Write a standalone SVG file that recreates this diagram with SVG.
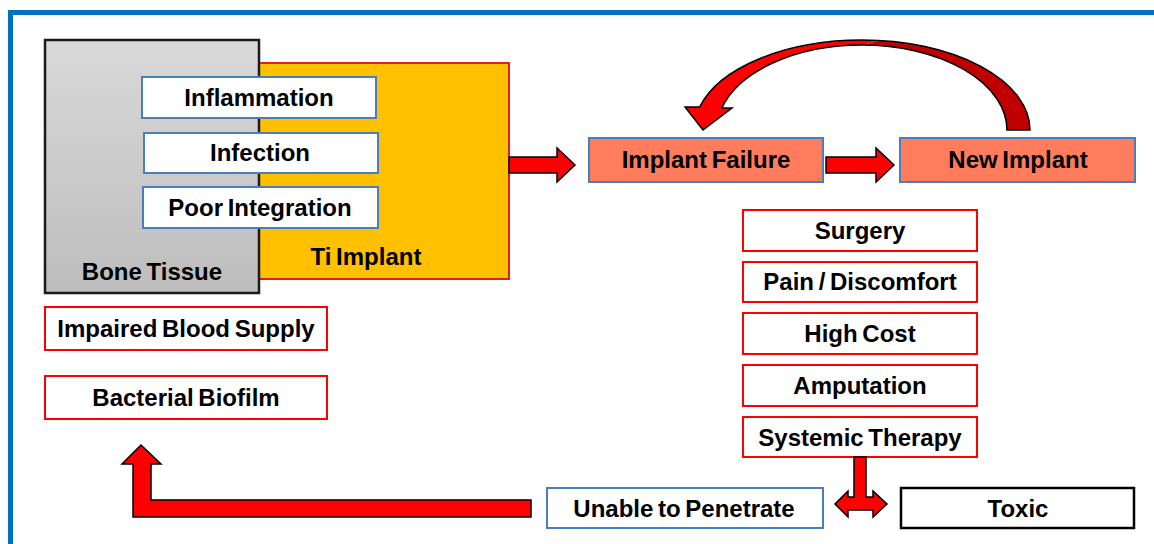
<svg xmlns="http://www.w3.org/2000/svg" width="1154" height="544" viewBox="0 0 1154 544">
<defs>
<linearGradient id="boneGrad" x1="0" y1="0" x2="0" y2="1">
<stop offset="0" stop-color="#D9D9D9"/>
<stop offset="1" stop-color="#BDBDBD"/>
</linearGradient>
</defs>
<style>
text{font-family:"Liberation Sans",Arial,sans-serif;font-weight:bold;font-size:24px;fill:#000;text-anchor:middle;word-spacing:-2px}
.blue{fill:#fff;stroke:#4A7EBB;stroke-width:2}
.red{fill:#fff;stroke:#FF0000;stroke-width:2}
.blk{fill:#fff;stroke:#000;stroke-width:2.5}
.salmon{fill:#FF7C5C;stroke:#4A7EBB;stroke-width:2}
.arrow{fill:#FF0000;stroke:#000;stroke-width:1.5;stroke-linejoin:miter}
.dark{fill:#C00000;stroke:none}
.bright{fill:#FF0000;stroke:none}
.outline{fill:none;stroke:#000;stroke-width:1.5}
</style>
<rect x="10.5" y="12.5" width="1200" height="600" fill="#fff" stroke="#0070C0" stroke-width="5"/>

<g id="ti-implant">
<rect x="259" y="63" width="250" height="216" fill="#FFC000" stroke="#E0201A" stroke-width="2"/>
<text x="366" y="265">Ti Implant</text>
</g>
<g id="bone-tissue">
<rect x="45" y="40" width="214" height="253" fill="url(#boneGrad)" stroke="#1a1a1a" stroke-width="2.5"/>
<text x="152" y="280">Bone Tissue</text>
</g>
<g id="inflammation">
<rect class="blue" x="142" y="77" width="234" height="41"/>
<text x="259" y="106">Inflammation</text>
</g>
<g id="infection">
<rect class="blue" x="144" y="133" width="234" height="40"/>
<text x="260" y="161">Infection</text>
</g>
<g id="poor-integration">
<rect class="blue" x="143" y="187" width="235" height="41"/>
<text x="260" y="216">Poor Integration</text>
</g>
<g id="impaired-blood-supply">
<rect class="red" x="45" y="307" width="282" height="43"/>
<text x="186" y="337">Impaired Blood Supply</text>
</g>
<g id="bacterial-biofilm">
<rect class="red" x="45" y="376" width="282" height="43"/>
<text x="186" y="406">Bacterial Biofilm</text>
</g>
<g id="implant-failure">
<rect class="salmon" x="589" y="138" width="234" height="44"/>
<text x="706" y="168">Implant Failure</text>
</g>
<g id="new-implant">
<rect class="salmon" x="900" y="138" width="235" height="44"/>
<text x="1018" y="168">New Implant</text>
</g>
<g id="surgery">
<rect class="red" x="743" y="210" width="234" height="41"/>
<text x="860" y="239">Surgery</text>
</g>
<g id="pain-discomfort">
<rect class="red" x="743" y="262" width="234" height="40"/>
<text x="860" y="290">Pain / Discomfort</text>
</g>
<g id="high-cost">
<rect class="red" x="743" y="313" width="234" height="41"/>
<text x="860" y="342">High Cost</text>
</g>
<g id="amputation">
<rect class="red" x="743" y="365" width="234" height="41"/>
<text x="860" y="394">Amputation</text>
</g>
<g id="systemic-therapy">
<rect class="red" x="743" y="417" width="234" height="40"/>
<text x="860" y="446">Systemic Therapy</text>
</g>
<g id="unable-to-penetrate">
<rect class="blue" x="547" y="488" width="276" height="40"/>
<text x="684" y="517">Unable to Penetrate</text>
</g>
<g id="toxic">
<rect class="blk" x="901" y="488" width="233" height="40"/>
<text x="1018" y="517">Toxic</text>
</g>

<g id="connectors">
<path class="arrow" d="M509,157 L557,157 L557,148 L575,165 L557,182 L557,173 L509,173 Z"/>
<path class="arrow" d="M826,157 L876,157 L876,148 L894,165 L876,182 L876,173 L826,173 Z"/>
<path class="dark" d="M880,40.5 A168,90 0 0 1 1030,130 L1007,130 A145,85 0 0 0 862,45 Z"/>
<path class="bright" d="M880,40.5 A168,90 0 0 0 862,40 A168,90 0 0 0 699.6,107 L685,107 L703,130 L732,108 L721.9,108 A145,85 0 0 1 862,45 Z"/>
<path class="outline" d="M1030,130 A168,90 0 0 0 862,40 A168,90 0 0 0 699.6,107 L685,107 L703,130 L732,108 L721.9,108 A145,85 0 0 1 862,45 A145,85 0 0 1 1007,130 Z"/>
<path class="arrow" d="M531,500 L531,517 L133,517 L133,464 L122,464 L141,445 L161,464 L151,464 L151,500 Z"/>
<path class="arrow" d="M854,457 L866,457 L866,497 L873,497 L873,491 L887,504 L873,517 L873,510 L848,510 L848,517 L835,504 L848,491 L848,497 L854,497 Z"/>
</g>
</svg>
